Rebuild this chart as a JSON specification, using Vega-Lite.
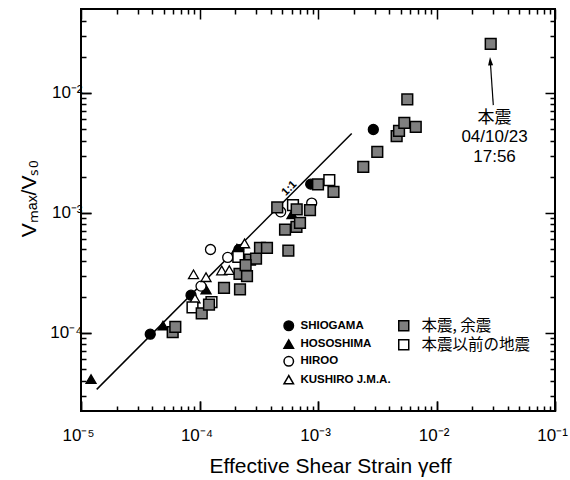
{
  "$schema": "https://vega.github.io/schema/vega-lite/v6.json",
  "width": 474,
  "height": 402,
  "autosize": "none",
  "padding": {"left": 81, "top": 9, "right": 15, "bottom": 69},
  "background": "white",
  "config": {
    "view": {"stroke": "black", "strokeWidth": 2, "fill": "transparent"},
    "font": "Liberation Sans",
    "axis": {"ticks": true, "tickColor": "black", "tickOpacity": 1, "tickWidth": 1.5, "domain": false, "gridColor": "black", "gridOpacity": 1, "gridWidth": 1.5}
  },
  "datasets": {
    "stations": [
      {"sta": "SHIOGAMA", "x": 3.84e-5, "y": 9.75e-5},
      {"sta": "SHIOGAMA", "x": 8.48e-5, "y": 2.06e-4},
      {"sta": "SHIOGAMA", "x": 2.154e-4, "y": 4.94e-4},
      {"sta": "SHIOGAMA", "x": 8.68e-4, "y": 1.735e-3},
      {"sta": "SHIOGAMA", "x": 2.93e-3, "y": 4.95e-3},
      {"sta": "HOSOSHIMA", "x": 1.215e-5, "y": 4.11e-5},
      {"sta": "HOSOSHIMA", "x": 4.92e-5, "y": 1.148e-4},
      {"sta": "HOSOSHIMA", "x": 1.135e-4, "y": 2.30e-4},
      {"sta": "HOSOSHIMA", "x": 2.07e-4, "y": 5.03e-4},
      {"sta": "HOSOSHIMA", "x": 6.03e-4, "y": 9.75e-4},
      {"sta": "HIROO", "x": 1.03e-4, "y": 2.45e-4},
      {"sta": "HIROO", "x": 1.238e-4, "y": 4.95e-4},
      {"sta": "HIROO", "x": 1.73e-4, "y": 4.25e-4},
      {"sta": "HIROO", "x": 4.84e-4, "y": 1.02e-3},
      {"sta": "HIROO", "x": 8.85e-4, "y": 1.205e-3},
      {"sta": "KUSHIRO J.M.A.", "x": 8.90e-5, "y": 3.07e-4},
      {"sta": "KUSHIRO J.M.A.", "x": 1.135e-4, "y": 2.91e-4},
      {"sta": "KUSHIRO J.M.A.", "x": 9.16e-5, "y": 1.935e-4},
      {"sta": "KUSHIRO J.M.A.", "x": 1.54e-4, "y": 3.31e-4},
      {"sta": "KUSHIRO J.M.A.", "x": 1.784e-4, "y": 3.33e-4},
      {"sta": "KUSHIRO J.M.A.", "x": 2.40e-4, "y": 5.56e-4}
    ],
    "squares": [
      {"ev": "本震以前の地震", "x": 8.73e-5, "y": 1.63e-4},
      {"ev": "本震以前の地震", "x": 1.262e-4, "y": 1.80e-4},
      {"ev": "本震以前の地震", "x": 2.125e-4, "y": 4.30e-4},
      {"ev": "本震以前の地震", "x": 6.15e-4, "y": 1.16e-3},
      {"ev": "本震以前の地震", "x": 1.246e-3, "y": 1.873e-3},
      {"ev": "本震, 余震", "x": 5.94e-5, "y": 1.014e-4},
      {"ev": "本震, 余震", "x": 6.25e-5, "y": 1.122e-4},
      {"ev": "本震, 余震", "x": 1.044e-4, "y": 1.45e-4},
      {"ev": "本震, 余震", "x": 1.203e-4, "y": 1.72e-4},
      {"ev": "本震, 余震", "x": 1.61e-4, "y": 2.37e-4},
      {"ev": "本震, 余震", "x": 2.197e-4, "y": 2.30e-4},
      {"ev": "本震, 余震", "x": 2.176e-4, "y": 3.10e-4},
      {"ev": "本震, 余震", "x": 2.517e-4, "y": 2.97e-4},
      {"ev": "本震, 余震", "x": 2.67e-4, "y": 4.07e-4},
      {"ev": "本震, 余震", "x": 3.00e-4, "y": 4.15e-4},
      {"ev": "本震, 余震", "x": 2.45e-4, "y": 3.66e-4},
      {"ev": "本震, 余震", "x": 3.24e-4, "y": 5.10e-4},
      {"ev": "本震, 余震", "x": 3.71e-4, "y": 5.10e-4},
      {"ev": "本震, 余震", "x": 5.62e-4, "y": 4.84e-4},
      {"ev": "本震, 余震", "x": 5.27e-4, "y": 7.24e-4},
      {"ev": "本震, 余震", "x": 6.58e-4, "y": 7.64e-4},
      {"ev": "本震, 余震", "x": 7.05e-4, "y": 8.25e-4},
      {"ev": "本震, 余震", "x": 4.53e-4, "y": 1.11e-3},
      {"ev": "本震, 余震", "x": 6.61e-4, "y": 1.068e-3},
      {"ev": "本震, 余震", "x": 8.56e-4, "y": 1.053e-3},
      {"ev": "本震, 余震", "x": 1.0e-3, "y": 1.728e-3},
      {"ev": "本震, 余震", "x": 1.351e-3, "y": 1.496e-3},
      {"ev": "本震, 余震", "x": 2.41e-3, "y": 2.416e-3},
      {"ev": "本震, 余震", "x": 3.165e-3, "y": 3.224e-3},
      {"ev": "本震, 余震", "x": 4.61e-3, "y": 4.36e-3},
      {"ev": "本震, 余震", "x": 4.83e-3, "y": 4.82e-3},
      {"ev": "本震, 余震", "x": 5.35e-3, "y": 5.62e-3},
      {"ev": "本震, 余震", "x": 6.68e-3, "y": 5.21e-3},
      {"ev": "本震, 余震", "x": 5.67e-3, "y": 8.81e-3},
      {"ev": "本震, 余震", "x": 0.02867, "y": 0.02561}
    ],
    "line": [{"x1": 1.357e-5, "y1": 3.376e-5, "x2": 1.925e-3, "y2": 4.59e-3}],
    "lineLabel": [{"x": 5.73e-4, "y": 1.597e-3, "t": "1:1"}],
    "note": [{"x": 0.03087, "y": 7.24e-3, "t": ["本震", "04/10/23", "17:56"]}],
    "arrow": [{"x1": 0.03015, "y1": 7.9e-3, "x2": 0.02844, "y2": 0.01836}]
  },
  "layer": [
    {
      "data": {"name": "line"},
      "mark": {"type": "rule", "color": "black", "strokeWidth": 1.5},
      "encoding": {
        "x": {"field": "x1", "type": "quantitative", "scale": {"type": "log", "domain": [1e-5, 0.1], "nice": false},
          "axis": {"orient": "top", "values": [1e-5, 1e-4, 0.001, 0.01, 0.1], "labels": false, "title": null, "ticks": false, "grid": true, "gridDash": [10, 382, 10, 600]}},
        "y": {"field": "y1", "type": "quantitative", "scale": {"type": "log", "domain": [2.23e-5, 0.05], "nice": false},
          "axis": {"orient": "right", "values": [1e-4, 0.001, 0.01], "labels": false, "title": null, "ticks": false, "grid": true, "gridDash": [10, 454, 10, 600]}},
        "x2": {"field": "x2"},
        "y2": {"field": "y2"}
      }
    },
    {
      "data": {"name": "lineLabel"},
      "mark": {"type": "text", "angle": -45, "fontSize": 11, "fontWeight": "bold", "font": "Liberation Sans", "color": "black", "align": "center", "baseline": "middle"},
      "encoding": {
        "x": {"field": "x", "type": "quantitative", "scale": {"type": "log", "domain": [1e-5, 0.1], "nice": false},
          "axis": {"orient": "top", "values": [2e-5,3e-5,4e-5,5e-5,6e-5,7e-5,8e-5,9e-5,2e-4,3e-4,4e-4,5e-4,6e-4,7e-4,8e-4,9e-4,0.002,0.003,0.004,0.005,0.006,0.007,0.008,0.009,0.02,0.03,0.04,0.05,0.06,0.07,0.08,0.09], "labels": false, "title": null, "ticks": false, "grid": true, "gridDash": [5, 392, 5, 600]}},
        "y": {"field": "y", "type": "quantitative", "scale": {"type": "log", "domain": [2.23e-5, 0.05], "nice": false},
          "axis": {"orient": "right", "values": [3e-5,4e-5,5e-5,6e-5,7e-5,8e-5,9e-5,2e-4,3e-4,4e-4,5e-4,6e-4,7e-4,8e-4,9e-4,0.002,0.003,0.004,0.005,0.006,0.007,0.008,0.009,0.02,0.03,0.04], "labels": false, "title": null, "ticks": false, "grid": true, "gridDash": [5, 464, 5, 600]}},
        "text": {"field": "t"}
      }
    },
    {
      "data": {"name": "stations"},
      "mark": {"type": "point", "filled": true, "size": 100, "stroke": "black", "strokeWidth": 1.3, "opacity": 1},
      "encoding": {
        "x": {
          "field": "x", "type": "quantitative",
          "scale": {"type": "log", "domain": [1e-5, 0.1], "nice": false},
          "axis": {
            "orient": "bottom", "offset": -10, "zindex": 1, "grid": false,
            "values": [1e-5, 1e-4, 0.001, 0.01, 0.1],
            "labelExpr": "'10⁻' + substring('⁰¹²³⁴⁵⁶', -round(log(datum.value)/LN10), 1 - round(log(datum.value)/LN10))",
            "ticks": true, "tickColor": "black", "tickSize": 10,
            "labelFlush": false, "labelOverlap": false, "labelOffset": -3,
            "labelFont": "Liberation Sans", "labelFontSize": 17, "labelColor": "black", "labelPadding": 16,
            "title": "Effective Shear Strain  γeff", "titleX": 249,
            "titleFont": "Liberation Sans", "titleFontSize": 21, "titleFontWeight": "normal", "titleColor": "black", "titlePadding": 12
          }
        },
        "y": {
          "field": "y", "type": "quantitative",
          "scale": {"type": "log", "domain": [2.23e-5, 0.05], "nice": false},
          "axis": {
            "orient": "left", "offset": -10, "zindex": 1, "grid": false,
            "values": [1e-4, 0.001, 0.01],
            "labelExpr": "'10⁻' + substring('⁰¹²³⁴⁵⁶', -round(log(datum.value)/LN10), 1 - round(log(datum.value)/LN10))",
            "ticks": true, "tickColor": "black", "tickSize": 10,
            "labelOverlap": false, "labelFlush": false,
            "labelFont": "Liberation Sans", "labelFontSize": 17, "labelColor": "black", "labelPadding": -1,
            "title": "Vₘₐₓ/Vₛ₀", "titleY": 189,
            "titleFont": "Liberation Sans", "titleFontSize": 21, "titleFontWeight": "normal", "titleColor": "black", "titlePadding": 10
          }
        },
        "shape": {
          "field": "sta", "type": "nominal",
          "scale": {"domain": ["SHIOGAMA", "HOSOSHIMA", "HIROO", "KUSHIRO J.M.A."], "range": ["circle", "triangle-up", "circle", "triangle-up"]},
          "legend": {"orient": "none", "legendX": 202, "legendY": 311, "title": null, "padding": 0, "labelFont": "Liberation Sans", "labelFontSize": 11.5, "labelFontWeight": "bold", "labelColor": "black", "symbolSize": 90, "rowPadding": 2.3, "labelOffset": 6,
            "encode": {"symbols": {"update": {"stroke": {"value": "black"}, "strokeWidth": {"value": 1.2}}}}}
        },
        "fill": {
          "field": "sta", "type": "nominal",
          "scale": {"domain": ["SHIOGAMA", "HOSOSHIMA", "HIROO", "KUSHIRO J.M.A."], "range": ["black", "black", "white", "white"]},
          "legend": {"orient": "none", "legendX": 202, "legendY": 311, "title": null, "padding": 0, "labelFont": "Liberation Sans", "labelFontSize": 11.5, "labelFontWeight": "bold", "labelColor": "black", "symbolSize": 90, "rowPadding": 2.3, "labelOffset": 6,
            "encode": {"symbols": {"update": {"stroke": {"value": "black"}, "strokeWidth": {"value": 1.2}}}}}
        }
      }
    },
    {
      "data": {"name": "squares"},
      "mark": {"type": "point", "shape": "square", "filled": true, "size": 115, "stroke": "black", "strokeWidth": 1.5, "opacity": 1},
      "encoding": {
        "x": {"field": "x", "type": "quantitative", "scale": {"type": "log", "domain": [1e-5, 0.1], "nice": false}, "axis": null},
        "y": {"field": "y", "type": "quantitative", "scale": {"type": "log", "domain": [2.23e-5, 0.05], "nice": false}, "axis": null},
        "fill": {
          "field": "ev", "type": "nominal",
          "scale": {"domain": ["本震, 余震", "本震以前の地震"], "range": ["#7f7f7f", "white"]},
          "legend": {"orient": "none", "legendX": 315, "legendY": 309, "title": null, "padding": 0, "symbolType": "square", "labelFont": "Noto Sans CJK JP", "labelFontSize": 15.5, "labelColor": "black", "symbolSize": 100, "rowPadding": 1, "labelOffset": 10,
            "encode": {"symbols": {"update": {"stroke": {"value": "black"}, "strokeWidth": {"value": 1.3}}}}}
        }
      }
    },
    {
      "data": {"name": "arrow"},
      "mark": {"type": "rule", "color": "black", "strokeWidth": 1.2},
      "encoding": {
        "x": {"field": "x1", "type": "quantitative", "scale": {"type": "log", "domain": [1e-5, 0.1], "nice": false}, "axis": null},
        "y": {"field": "y1", "type": "quantitative", "scale": {"type": "log", "domain": [2.23e-5, 0.05], "nice": false}, "axis": null},
        "x2": {"field": "x2"},
        "y2": {"field": "y2"}
      }
    },
    {
      "data": {"name": "arrow"},
      "mark": {"type": "point", "shape": "M0,-1L0.6,1L-0.6,1Z", "filled": true, "color": "black", "size": 70, "angle": -4, "opacity": 1},
      "encoding": {
        "x": {"field": "x2", "type": "quantitative", "scale": {"type": "log", "domain": [1e-5, 0.1], "nice": false}, "axis": null},
        "y": {"field": "y2", "type": "quantitative", "scale": {"type": "log", "domain": [2.23e-5, 0.05], "nice": false}, "axis": null}
      }
    },
    {
      "data": {"name": "note"},
      "mark": {"type": "text", "font": "Liberation Sans, Noto Sans CJK JP", "fontSize": 17, "lineHeight": 19.5, "align": "center", "baseline": "top", "color": "black"},
      "encoding": {
        "x": {"field": "x", "type": "quantitative", "scale": {"type": "log", "domain": [1e-5, 0.1], "nice": false}, "axis": null},
        "y": {"field": "y", "type": "quantitative", "scale": {"type": "log", "domain": [2.23e-5, 0.05], "nice": false}, "axis": null},
        "text": {"field": "t"}
      }
    }
  ],
  "resolve": {
    "scale": {"fill": "independent", "shape": "independent"},
    "axis": {"x": "independent", "y": "independent"}
  }
}
